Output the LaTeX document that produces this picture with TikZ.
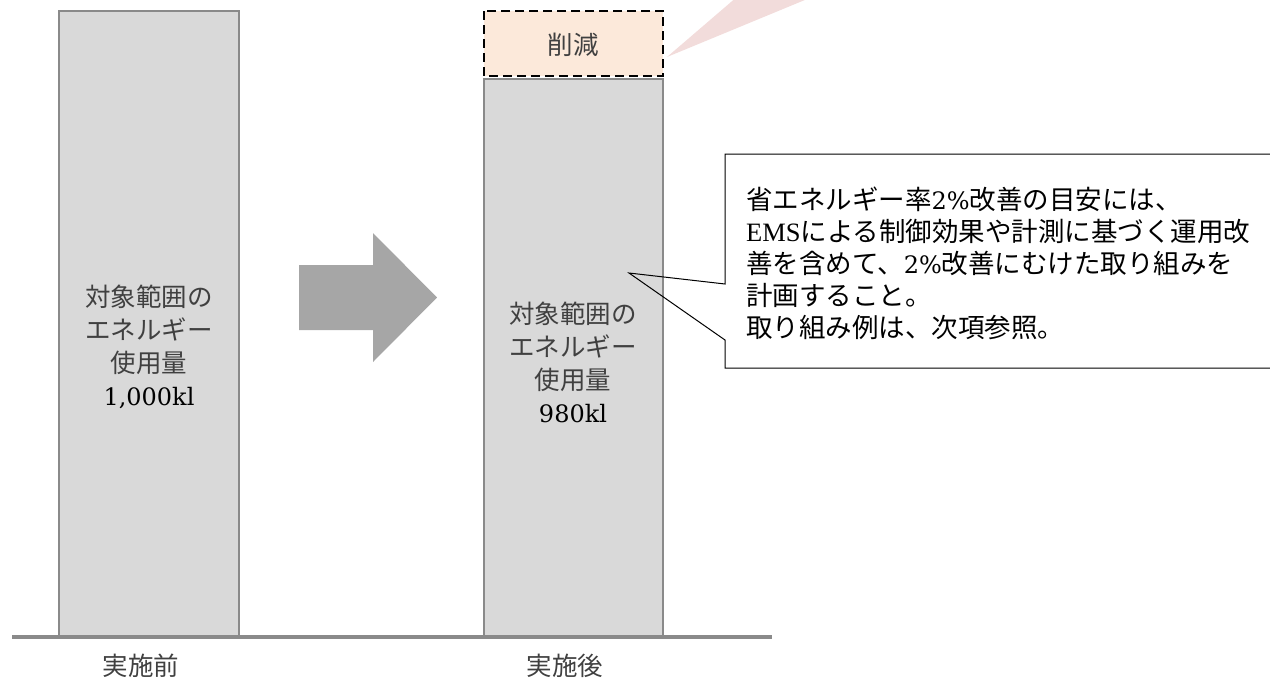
\documentclass[tikz,border=0pt]{standalone}
\usepackage{fontspec}
\setmainfont{Noto Sans CJK JP}
\newfontfamily\numfont{DejaVu Serif}
\newfontfamily\latfont{Liberation Serif}
\definecolor{barfill}{HTML}{D9D9D9}
\definecolor{barline}{HTML}{8A8A8A}
\definecolor{arrowgray}{HTML}{A6A6A6}
\definecolor{cutfill}{HTML}{FCE9DA}
\definecolor{wedgepink}{HTML}{F2DCDB}
\definecolor{txtgray}{HTML}{404040}
\begin{document}
\begin{tikzpicture}[x=1pt,y=-1pt,
  barbox/.style={draw=barline,fill=barfill,line width=1.8pt},
  bartext/.style={align=center,inner sep=0pt,text=txtgray,font=\fontsize{25.5}{33}\selectfont},
  axislabel/.style={inner sep=0pt,text=txtgray,font=\fontsize{25.5}{30}\selectfont},
  calltext/.style={align=left,inner sep=0pt,text=black,font=\fontsize{26.5}{32}\selectfont}]
\useasboundingbox (0,0) rectangle (1270,678);
\begin{scope}
\clip (0,0) rectangle (1270,678);
% pink wedge from an off-picture callout
\fill[wedgepink] (667,57) -- (745,-10) -- (829,-10) -- cycle;
% bars
\draw[barbox] (59,11) rectangle (239,636);
\draw[barbox] (484,79) rectangle (663,636);
\coordinate (b1) at (149,347);
\coordinate (b2) at (573,362);
% reduction box
\draw[fill=cutfill,draw=black,line width=2.6pt,dash pattern=on 9pt off 5pt] (484,11) rectangle (663,76);
\node[axislabel] (cut) at (573,45) {削減};
% base line
\draw[barline,line width=3.5pt] (12,637) -- (772,637);
% big arrow
\fill[arrowgray] (299,265) -- (373,265) -- (373,233) -- (437,297.5) -- (373,362) -- (373,330) -- (299,330) -- cycle;
% bar texts
\node[bartext] (t1) at (b1) {対象範囲の\\エネルギー\\使用量\\{\numfont\fontsize{24}{33}\selectfont\color{black}1,000kl}};
\node[bartext] (t2) at (b2) {対象範囲の\\エネルギー\\使用量\\{\numfont\fontsize{24}{33}\selectfont\color{black}980kl}};
% axis labels
\node[axislabel] (l1) at (141,666) {実施前};
\node[axislabel] (l2) at (565,666) {実施後};
% callout
\draw[black,line width=1pt,line join=miter] (725,284) -- (725,154) -- (1285,154) -- (1285,368) -- (725,368) -- (725,340) -- (629,273) -- cycle;
\node[calltext,anchor=north west] (call) at (746,187) {省エネルギー率{\numfont\fontsize{24}{32}\selectfont 2\%}改善の目安には、\\{\latfont EMS}による制御効果や計測に基づく運用改\\善を含めて、{\numfont\fontsize{24}{32}\selectfont 2\%}改善にむけた取り組みを\\計画すること。\\取り組み例は、次項参照。};
\end{scope}
\end{tikzpicture}
\end{document}
